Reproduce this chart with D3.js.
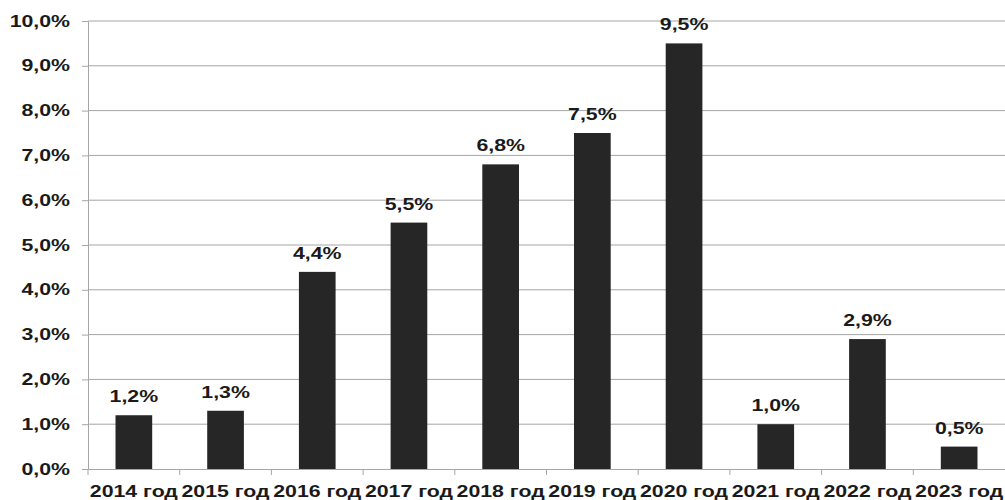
<!DOCTYPE html>
<html>
<head>
<meta charset="utf-8">
<script src="https://cdn.jsdelivr.net/npm/d3@7"></script>
<style>
  body { margin: 0; background: #fff; }
  text { font-family: "Liberation Sans", Arial, sans-serif; font-weight: bold; fill: #1a1a1a; }
</style>
</head>
<body>
<div id="chart"></div>
<script>
const years = ['2014 год', '2015 год', '2016 год', '2017 год', '2018 год', '2019 год', '2020 год', '2021 год', '2022 год', '2023 год'];
const values = [1.2, 1.3, 4.4, 5.5, 6.8, 7.5, 9.5, 1.0, 2.9, 0.5];
const yTicks = [0, 1, 2, 3, 4, 5, 6, 7, 8, 9, 10];

const width = 1005, height = 500;
const margin = { top: 21, right: 0, bottom: 31, left: 88 };
const stretch = 1.33; // text in the picture is wide

const svg = d3.select('#chart')
    .append('svg')
    .attr('width', width)
    .attr('height', height);

const x = d3.scaleBand()
    .domain(years)
    .range([margin.left, width - margin.right])
    .paddingInner(0.6)
    .paddingOuter(0.3);

const y = d3.scaleLinear()
    .domain([0, 10])
    .range([height - margin.bottom, margin.top]);

const fmt = d => d.toFixed(1).replace('.', ',') + '%';

// widen text to match the picture
function widen(sel) {
    sel.each(function () {
        const w = this.getComputedTextLength();
        d3.select(this)
            .attr('textLength', w * stretch)
            .attr('lengthAdjust', 'spacingAndGlyphs');
    });
}

// gridlines
svg.append('g')
    .selectAll('line')
    .data(yTicks.slice(1))
    .join('line')
    .attr('x1', margin.left)
    .attr('x2', width - margin.right)
    .attr('y1', d => y(d))
    .attr('y2', d => y(d))
    .attr('stroke', '#a6a6a6')
    .attr('stroke-width', 1);

// y axis
const yAxis = svg.append('g')
    .attr('transform', 'translate(' + margin.left + ',0)')
    .call(d3.axisLeft(y).tickValues(yTicks).tickFormat(fmt).tickSize(6).tickPadding(12).tickSizeOuter(0));
yAxis.select('.domain').attr('stroke', '#a6a6a6');
yAxis.selectAll('.tick line').attr('stroke', '#a6a6a6');
yAxis.selectAll('text')
    .style('font-size', '16px')
    .attr('fill', '#1a1a1a')
    .call(widen);

// bars
svg.selectAll('.bar')
    .data(values)
    .join('rect')
    .attr('class', 'bar')
    .attr('x', (d, i) => x(years[i]))
    .attr('y', d => y(d))
    .attr('width', x.bandwidth())
    .attr('height', d => y(0) - y(d))
    .attr('fill', '#262626');

// value labels
svg.selectAll('.label')
    .data(values)
    .join('text')
    .attr('class', 'label')
    .attr('x', (d, i) => x(years[i]) + x.bandwidth() / 2)
    .attr('y', d => y(d) - 13)
    .attr('text-anchor', 'middle')
    .style('font-size', '16px')
    .text(fmt)
    .call(widen);

// x axis
const xAxis = svg.append('g')
    .attr('transform', 'translate(0,' + y(0) + ')')
    .call(d3.axisBottom(x).tickSize(0).tickPadding(17).tickSizeOuter(0));
xAxis.select('.domain').attr('stroke', '#a6a6a6');
xAxis.selectAll('text')
    .style('font-size', '16px')
    .attr('fill', '#1a1a1a')
    .call(widen);

// tick marks between categories
const step = x.step();
svg.append('g')
    .selectAll('line')
    .data(years)
    .join('line')
    .attr('x1', (d, i) => margin.left + i * step)
    .attr('x2', (d, i) => margin.left + i * step)
    .attr('y1', y(0))
    .attr('y2', y(0) + 6)
    .attr('stroke', '#a6a6a6');
</script>
</body>
</html>
